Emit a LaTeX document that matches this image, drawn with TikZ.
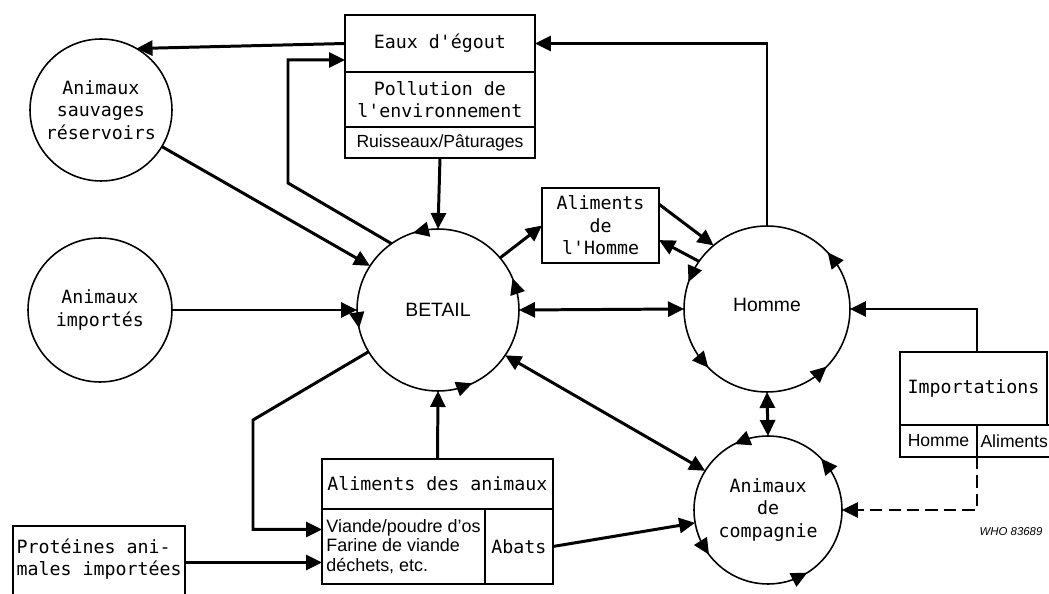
\documentclass[tikz,border=0pt]{standalone}
\usepackage{fontspec}
\setmonofont{DejaVu Sans Mono}
\setsansfont{Liberation Sans}
\usetikzlibrary{arrows.meta,positioning,calc}

\tikzset{
  flujo/.style={line width=1.7pt, -{Triangle[length=0.32cm,width=0.3cm]}},
  doble/.style={line width=1.7pt, {Triangle[length=0.32cm,width=0.3cm]}-{Triangle[length=0.32cm,width=0.3cm]}},
  giro/.style={line width=0.9pt, -{Triangle[length=0.32cm,width=0.3cm]}},
  rond/.style={draw, circle, line width=0.9pt, inner sep=0pt, outer sep=0pt, align=center},
  caja/.style={draw, rectangle, line width=0.9pt, inner sep=2pt, outer sep=0pt, align=center},
  sans/.style={font=\sffamily\fontsize{10}{12.8}\selectfont},
  grand/.style={font=\sffamily\fontsize{11}{13}\selectfont}
}

\begin{document}
\begin{tikzpicture}[x=0.02cm, y=-0.02cm, font=\ttfamily\fontsize{10.4}{12.8}\selectfont]
\useasboundingbox (0,0) rectangle (1049,594);
% Cercles
\node[rond, minimum size=2.84cm] (sauvages) at (101,110) {Animaux\\sauvages\\réservoirs};
\node[rond, minimum size=2.88cm] (importes) at (100,310) {Animaux\\importés};
\node[rond, grand, minimum size=3.24cm] (betail) at (438,310) {BETAIL};
\node[rond, grand, minimum size=3.32cm] (homme) at (767,309) {\raisebox{5pt}{Homme}};
\node[rond, minimum size=2.96cm] (compagnie) at (768,510) {Animaux\\de\\compagnie};
% Eaux d'egout
\node[caja, minimum width=3.8cm, minimum height=1.14cm] (egout) at (440,43.5) {Eaux d'égout};
\node[caja, minimum width=3.8cm, minimum height=1.1cm, below=0pt of egout] (pollution) {Pollution de\\l'environnement};
\node[caja, sans, minimum width=3.8cm, minimum height=0.62cm, below=0pt of pollution] (ruisseaux) {Ruisseaux/Pâturages};
% Aliments de l'Homme
\node[caja, minimum width=2.34cm, minimum height=1.5cm] (alhomme) at (600.5,225.5) {Aliments\\de\\l'Homme};
% Aliments des animaux
\node[caja, minimum width=4.62cm, minimum height=1cm] (alanim) at (437.5,484) {Aliments des animaux};
\node[caja, align=left, inner sep=1.5pt, font=\sffamily\fontsize{10.2}{11.2}\selectfont, minimum width=3.26cm, minimum height=1.5cm, anchor=north west] (viande) at (alanim.south west) {Viande/poudre d'os\\Farine de viande\\déchets, etc.};
\node[caja, minimum width=1.36cm, minimum height=1.5cm, right=0pt of viande] (abats) {Abats};
% Importations
\node[caja, minimum width=2.94cm, minimum height=1.46cm] (import) at (973.5,388.5) {Importations};
\node[caja, sans, minimum width=1.54cm, minimum height=0.64cm, anchor=north west] (impHomme) at (import.south west) {Homme};
\node[caja, sans, minimum width=1.4cm, minimum height=0.64cm, right=0pt of impHomme] (impAliments) {Aliments};
% Proteines
\node[caja, align=left, minimum width=3.44cm, minimum height=1.7cm, anchor=north west] (proteines) at (13,526) {Protéines ani-\\males importées\\\mbox{}};
\node[font=\sffamily\itshape\fontsize{6.5}{8}\selectfont] (who) at (1011,532) {WHO 83689};
% Fleches du haut
\coordinate (c1) at (288,183);
\coordinate (c2) at ($(egout.south west)+(0,-12)$);
\draw[flujo] (egout.west) -- (sauvages.60);
\draw[flujo] (betail.125) -- (c1) |- (c2);
\draw[flujo] (homme.north) |- (egout.east);
\draw[flujo] (ruisseaux.south) -- (betail.north);
% Vers le betail
\draw[flujo] (sauvages.-31) -- (betail.147);
\draw[flujo] (importes.east) -- (betail.west);
\draw[flujo] (alanim.north) -- (betail.south);
% Aliments de l'Homme
\draw[flujo] (betail.40) -- (alhomme.west);
\draw[flujo] (alhomme.20) -- (homme.130);
\draw[flujo] (homme.145) -- (alhomme.-14);
% Echanges
\draw[doble] (betail.east) -- (homme.west);
\draw[doble] (betail.-34) -- (compagnie.148);
\draw[doble] (homme.south) -- (compagnie.north);
% Aliments des animaux
\coordinate (c3) at (253,420);
\coordinate (v1) at ($(viande.west)+(0,-17)$);
\coordinate (v2) at ($(viande.west)+(0,16)$);
\draw[flujo] (betail.211) -- (c3) |- (v1);
\draw[flujo] (v2 -| proteines.east) -- (v2);
\draw[flujo] (abats.east) -- (compagnie.190);
% Importations
\draw[flujo] (import.north -| impHomme.east) |- (homme.east);
\draw[flujo, dash pattern=on 7pt off 3.5pt] (impHomme.south east) |- (compagnie.east);
% Circulation
\foreach \a [evaluate=\a as \b using int(\a-9)] in {108,23,295,193}
  \draw[giro] (betail.\b) -- (betail.\a);
\foreach \a [evaluate=\a as \b using int(\a-9)] in {43,161,225,316}
  \draw[giro] (homme.\b) -- (homme.\a);
\foreach \a [evaluate=\a as \b using int(\a-10)] in {117,44,217,302}
  \draw[giro] (compagnie.\b) -- (compagnie.\a);
\end{tikzpicture}
\end{document}
